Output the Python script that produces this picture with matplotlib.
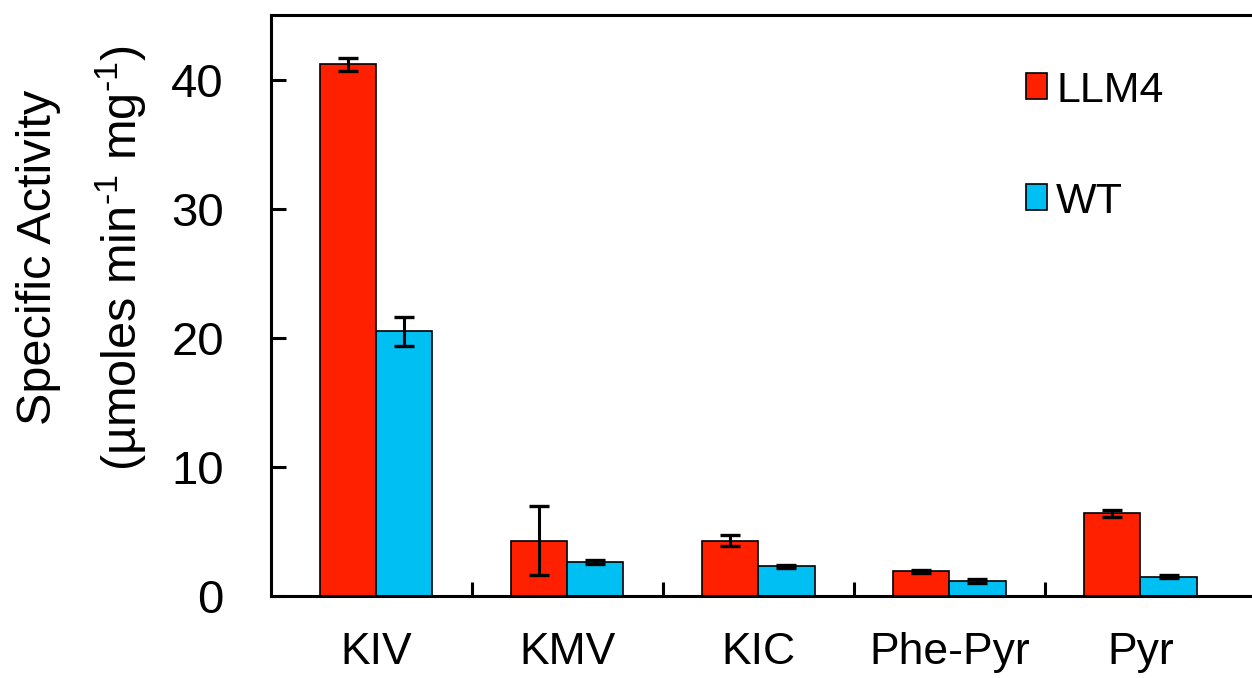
import numpy as np
import matplotlib
matplotlib.use("Agg")
import matplotlib.pyplot as plt
from matplotlib.patches import Patch

plt.rcParams['font.family'] = ['Liberation Sans', 'DejaVu Sans']
plt.rcParams['mathtext.fontset'] = 'custom'
plt.rcParams['mathtext.rm'] = 'Liberation Sans'
plt.rcParams['mathtext.it'] = 'Liberation Sans'

# Substrates and specific activities (mean, error)
substrates = ["KIV", "KMV", "KIC", "Phe-Pyr", "Pyr"]
llm4_mean = [41.2, 4.3, 4.3, 1.9, 6.4]
llm4_err = [0.5, 2.7, 0.45, 0.1, 0.25]
wt_mean = [20.5, 2.65, 2.3, 1.15, 1.5]
wt_err = [1.1, 0.15, 0.1, 0.15, 0.1]
series_names = ["LLM4", "WT"]
y_ticks = [0, 10, 20, 30, 40]

RED = "#FF2000"
BLUE = "#00BFF2"

fig = plt.figure(figsize=(12.52, 6.78), dpi=100)
ax = fig.add_axes([0.2165, 0.1209, 0.7835, 0.857])

x = np.arange(len(substrates))
w = 0.295
err_kw = dict(ecolor="black", elinewidth=2.2, capsize=7, capthick=2.4)
ax.bar(x - w / 2, llm4_mean, w, yerr=llm4_err, color=RED, edgecolor="black",
       linewidth=1.2, error_kw=err_kw, zorder=2)
ax.bar(x + w / 2, wt_mean, w, yerr=wt_err, color=BLUE, edgecolor="black",
       linewidth=1.2, error_kw=err_kw, zorder=2)

ax.set_xlim(-0.549, 4.584)
ax.set_ylim(0, 45)

# Category labels at centres, short inward ticks between categories
ax.set_xticks(x)
ax.set_xticklabels(substrates, fontsize=32)
ax.tick_params(axis="x", which="major", length=0, pad=26)
ax.set_xticks(x[:-1] + 0.5, minor=True)
ax.tick_params(axis="x", which="minor", direction="in", length=10, width=2.2)

ax.set_yticks(y_ticks)
ax.set_yticklabels([str(t) for t in y_ticks], fontsize=34)
ax.tick_params(axis="y", direction="in", length=11, width=2.2, pad=34)

for side in ("left", "bottom", "top"):
    ax.spines[side].set_linewidth(2.2)
ax.spines["right"].set_visible(False)

# Two-line y-axis title
fig.text(0.031, 0.62, "Specific Activity", rotation=90, fontsize=35,
         ha="center", va="center")
fig.text(0.097, 0.62, "(µmoles min$^{\\mathregular{\u20101}}$ mg$^{\\mathregular{\u20101}}$)",
         rotation=90, fontsize=35, ha="center", va="center")

handles = [Patch(facecolor=RED, edgecolor="black", linewidth=1.2),
           Patch(facecolor=BLUE, edgecolor="black", linewidth=1.2)]
ax.legend(handles, series_names, loc="upper left", bbox_to_anchor=(0.752, 0.934),
          frameon=False, fontsize=31, handlelength=0.5, handleheight=0.55,
          handletextpad=0.2, labelspacing=1.65, borderaxespad=0)

fig.savefig("out.png", dpi=100)
